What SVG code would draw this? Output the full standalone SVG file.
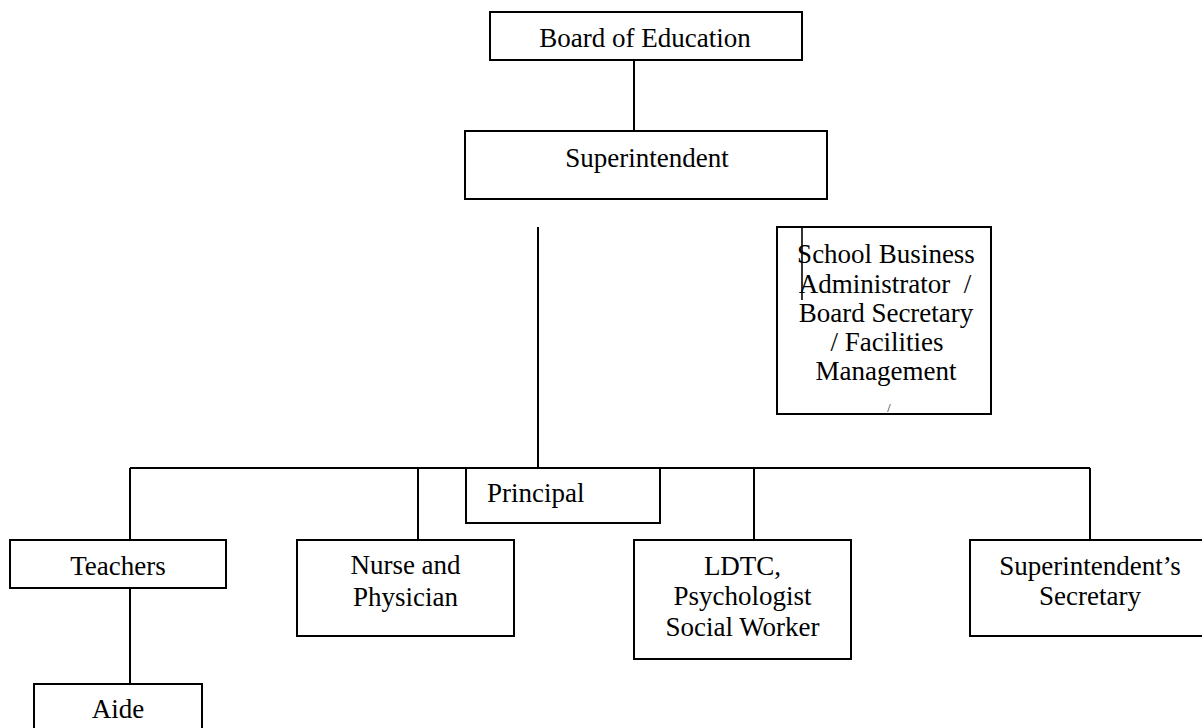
<svg xmlns="http://www.w3.org/2000/svg" width="1202" height="728" viewBox="0 0 1202 728">
<style>
.box{fill:#fff;stroke:#000;stroke-width:2}
.ln{fill:none;stroke:#000;stroke-width:2}
text{font-family:"Liberation Serif","Times New Roman",serif;font-size:27px;fill:#000}
.c{text-anchor:middle}
</style>
<rect width="1202" height="728" fill="#fff"/>
<g id="connectors">
<line class="ln" x1="634" y1="60" x2="634" y2="131"/>
<line class="ln" x1="538" y1="227" x2="538" y2="468"/>
<line class="ln" x1="130" y1="468" x2="1090" y2="468"/>
<line class="ln" x1="130" y1="468" x2="130" y2="540"/>
<line class="ln" x1="418" y1="468" x2="418" y2="540"/>
<line class="ln" x1="754" y1="468" x2="754" y2="540"/>
<line class="ln" x1="1090" y1="468" x2="1090" y2="540"/>
<line class="ln" x1="130" y1="588" x2="130" y2="684"/>
</g>
<g id="board">
<rect class="box" x="490" y="12" width="312" height="48"/>
<text class="c" x="645" y="47">Board of Education</text>
</g>
<g id="superintendent">
<rect class="box" x="465" y="131" width="362" height="68"/>
<text class="c" x="647" y="167">Superintendent</text>
</g>
<g id="business">
<rect class="box" x="777" y="227" width="214" height="187"/>
<line x1="802" y1="228" x2="802" y2="300" stroke="#000" stroke-width="1.6"/>
<text class="c" x="886" y="263">School Business</text>
<text class="c" x="885" y="293" xml:space="preserve">Administrator  /</text>
<text class="c" x="886" y="322">Board Secretary</text>
<text class="c" x="887" y="351">/ Facilities</text>
<text class="c" x="886" y="380">Management</text>
<text class="c" x="889" y="412" style="font-size:12px">/</text>
</g>
<g id="principal">
<rect class="box" x="466" y="468" width="194" height="55"/>
<text x="487" y="502">Principal</text>
</g>
<g id="teachers">
<rect class="box" x="10" y="540" width="216" height="48"/>
<text class="c" x="118" y="575">Teachers</text>
</g>
<g id="aide">
<rect class="box" x="34" y="684" width="168" height="60"/>
<text class="c" x="118" y="718">Aide</text>
</g>
<g id="nurse">
<rect class="box" x="297" y="540" width="217" height="96"/>
<text class="c" x="405.5" y="574">Nurse and</text>
<text class="c" x="405.5" y="606">Physician</text>
</g>
<g id="ldtc">
<rect class="box" x="634" y="540" width="217" height="119"/>
<text class="c" x="742.5" y="575">LDTC,</text>
<text class="c" x="742.5" y="605">Psychologist</text>
<text class="c" x="742.5" y="636">Social Worker</text>
</g>
<g id="secretary">
<rect class="box" x="970" y="540" width="250" height="96"/>
<text class="c" x="1090" y="575">Superintendent’s</text>
<text class="c" x="1090" y="605">Secretary</text>
</g>
</svg>
